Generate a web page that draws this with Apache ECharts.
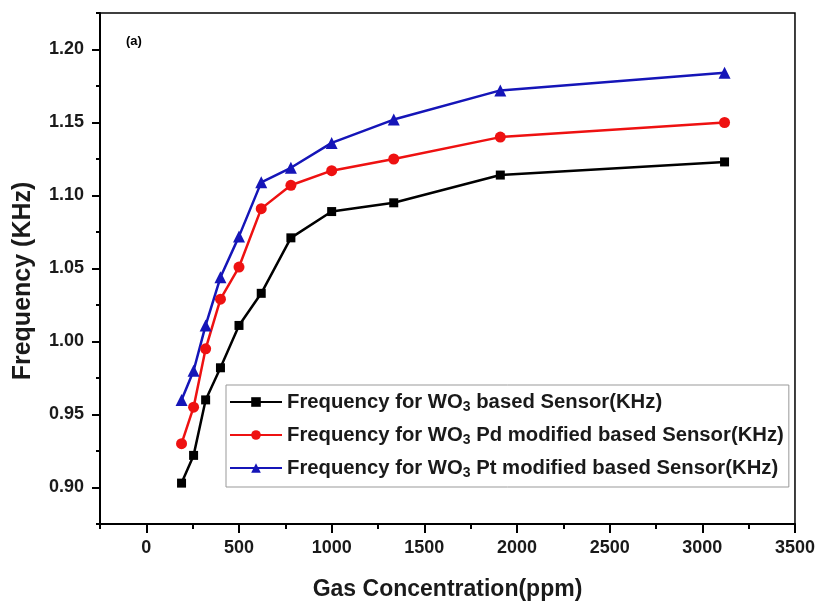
<!DOCTYPE html>
<html><head><meta charset="utf-8">
<script src="https://cdn.jsdelivr.net/npm/echarts@6/dist/echarts.min.js"></script>
<style>html,body{margin:0;padding:0;background:#fff}#c{width:818px;height:606px}</style>
</head><body><div id="c"></div>
<script>
const concentration = [190, 255, 320, 400, 500, 620, 780, 1000, 1335, 1910, 3120];
const freqWO3 = [0.903, 0.922, 0.960, 0.982, 1.011, 1.033, 1.071, 1.089, 1.095, 1.114, 1.123];
const freqPd = [0.930, 0.955, 0.995, 1.029, 1.051, 1.091, 1.107, 1.117, 1.125, 1.140, 1.150];
const freqPt = [0.960, 0.980, 1.011, 1.044, 1.072, 1.109, 1.119, 1.136, 1.152, 1.172, 1.184];
const seriesNames = ['Frequency for WO3 based Sensor(KHz)', 'Frequency for WO3 Pd modified based Sensor(KHz)', 'Frequency for WO3 Pt modified based Sensor(KHz)'];
const xTicks = [0, 500, 1000, 1500, 2000, 2500, 3000, 3500];
const yTicks = [0.90, 0.95, 1.00, 1.05, 1.10, 1.15, 1.20];

const FONT = '"Liberation Sans", Arial, sans-serif';
const pairs = ys => concentration.map((x, i) => [x, ys[i]]);
const chart = echarts.init(document.getElementById('c'), null, {renderer: 'canvas'});
const lblStyle = {fontFamily: FONT, fontWeight: 'bold', fontSize: 18, color: '#1a1a1a'};
const mkSeries = (name, ys, color, symbol, size) => ({
  name, type: 'line', data: pairs(ys), xAxisIndex: 0, yAxisIndex: 0,
  symbol, symbolSize: size, showAllSymbol: true,
  lineStyle: {color, width: 2.5}, itemStyle: {color}, emphasis: {disabled: true}, z: 3
});
chart.setOption({
  animation: false,
  backgroundColor: '#fff',
  grid: {left: 100, right: 20, top: 13, bottom: 77, show: true, borderColor: '#000', borderWidth: 1.5},
  xAxis: [{
    type: 'value', min: -250, max: 3500, position: 'bottom',
    name: 'Gas Concentration(ppm)', nameLocation: 'middle', nameGap: 54,
    nameTextStyle: {fontFamily: FONT, fontWeight: 'bold', fontSize: 23, color: '#1a1a1a'},
    axisLine: {show: true, onZero: false, lineStyle: {color: '#000', width: 2}},
    axisTick: {show: true, customValues: xTicks, length: 9, inside: false, lineStyle: {color: '#000', width: 2}},
    axisLabel: Object.assign({customValues: xTicks, margin: 15, formatter: v => String(v)}, lblStyle),
    splitLine: {show: false}
  }, {
    type: 'value', min: -250, max: 3500, interval: 250, position: 'bottom',
    axisLine: {show: false, onZero: false}, axisTick: {show: true, length: 5, lineStyle: {color: '#000', width: 2}},
    axisLabel: {show: false}, splitLine: {show: false}
  }],
  yAxis: [{
    type: 'value', min: 0.875, max: 1.225, position: 'left',
    axisLine: {show: true, onZero: false, lineStyle: {color: '#000', width: 2}},
    axisTick: {show: true, customValues: yTicks, length: 8, lineStyle: {color: '#000', width: 2}},
    axisLabel: Object.assign({customValues: yTicks, margin: 16, formatter: v => v.toFixed(2)}, lblStyle),
    splitLine: {show: false}
  }, {
    type: 'value', min: 0.875, max: 1.225, interval: 0.025, position: 'left',
    axisLine: {show: false, onZero: false}, axisTick: {show: true, length: 4, lineStyle: {color: '#000', width: 2}},
    axisLabel: {show: false}, splitLine: {show: false}
  }],
  legend: {
    orient: 'vertical', left: 226, top: 385,
    padding: [5, 5, 7, 3], itemGap: 9, itemWidth: 52, itemHeight: 12,
    borderColor: '#999', borderWidth: 1, backgroundColor: '#fff',
    data: seriesNames,
    formatter: n => n.replace('WO3', 'WO{s|3}'),
    textStyle: {fontFamily: FONT, fontWeight: 'bold', fontSize: 20.3, color: '#1a1a1a', lineHeight: 24,
      rich: {s: {fontFamily: FONT, fontWeight: 'bold', fontSize: 14, lineHeight: 14, verticalAlign: 'bottom', color: '#1a1a1a'}}},
    selectedMode: false
  },
  graphic: [
    {type: 'text', left: 126, top: 35, style: {text: '(a)', font: 'bold 13px "Liberation Sans", Arial, sans-serif', fill: '#000'}},
    {type: 'text', x: 23, y: 281, rotation: Math.PI / 2,
     style: {text: 'Frequency (KHz)', font: 'bold 25px "Liberation Sans", Arial, sans-serif', fill: '#1a1a1a', align: 'center', verticalAlign: 'middle'}}
  ],
  series: [
    mkSeries(seriesNames[0], freqWO3, '#000000', 'rect', 9),
    mkSeries(seriesNames[1], freqPd, '#ee1111', 'circle', 11),
    mkSeries(seriesNames[2], freqPt, '#1515b8', 'triangle', 12)
  ]
});
</script></body></html>
